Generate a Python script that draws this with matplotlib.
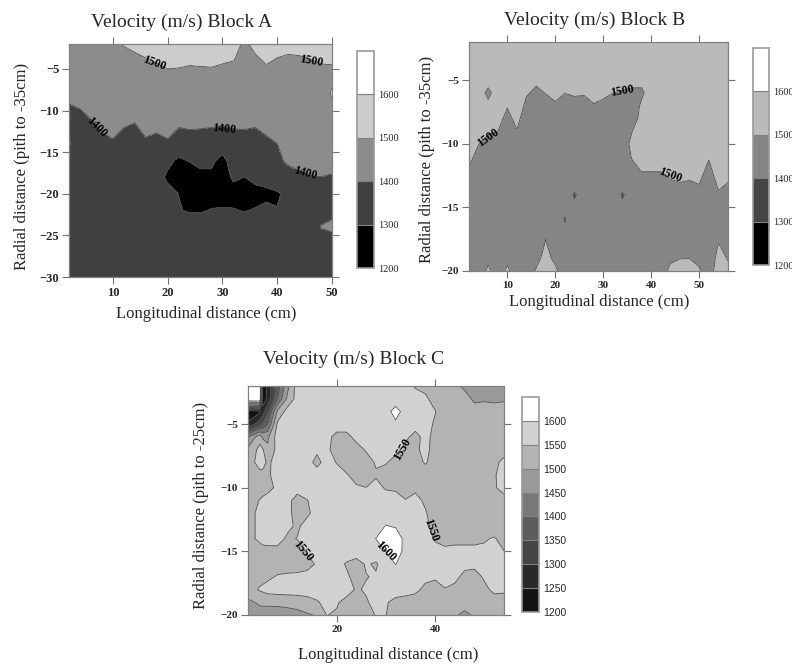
import matplotlib
matplotlib.use('Agg')
import matplotlib.pyplot as plt
import numpy as np

plt.rcParams['font.family'] = ['Liberation Serif', 'DejaVu Serif']

W, H = 792, 664

# Block A, velocity in m/s
xa = [2, 4, 6, 8, 10, 12, 14, 16, 18, 20, 22, 24, 26, 28, 30, 32, 34, 36, 38, 40, 42, 44, 46, 48, 50]
ya = [-2, -4, -6, -8, -10, -12, -14, -16, -18, -20, -22, -24, -26, -28, -30]
za = [
    [1485, 1485, 1490, 1490, 1485, 1505, 1525, 1540, 1555, 1570, 1570, 1565, 1565, 1570, 1560, 1550, 1480, 1530, 1560, 1540, 1530, 1535, 1545, 1560, 1555],
    [1480, 1480, 1485, 1485, 1480, 1470, 1475, 1492, 1508, 1525, 1522, 1515, 1518, 1520, 1510, 1501, 1487, 1480, 1512, 1492, 1482, 1485, 1495, 1510, 1505],
    [1460, 1465, 1470, 1475, 1470, 1470, 1465, 1460, 1458, 1475, 1472, 1465, 1467, 1470, 1460, 1450, 1440, 1435, 1462, 1442, 1430, 1435, 1445, 1460, 1485],
    [1430, 1445, 1475, 1470, 1470, 1465, 1460, 1460, 1450, 1450, 1445, 1445, 1445, 1445, 1440, 1440, 1440, 1440, 1445, 1445, 1445, 1445, 1445, 1450, 1510],
    [1380, 1395, 1425, 1455, 1460, 1450, 1437, 1460, 1455, 1460, 1450, 1455, 1455, 1450, 1447, 1455, 1457, 1450, 1460, 1460, 1470, 1470, 1470, 1470, 1465],
    [1350, 1355, 1375, 1415, 1435, 1401, 1387, 1430, 1417, 1435, 1401, 1407, 1405, 1401, 1397, 1405, 1407, 1401, 1425, 1450, 1460, 1460, 1460, 1460, 1460],
    [1410, 1340, 1345, 1365, 1385, 1350, 1337, 1380, 1367, 1385, 1350, 1357, 1355, 1350, 1347, 1355, 1357, 1350, 1375, 1399, 1450, 1460, 1465, 1465, 1465],
    [1340, 1340, 1340, 1340, 1340, 1340, 1340, 1340, 1335, 1320, 1287, 1305, 1317, 1315, 1275, 1340, 1345, 1350, 1360, 1385, 1412, 1430, 1445, 1450, 1440],
    [1340, 1340, 1340, 1340, 1340, 1340, 1340, 1335, 1330, 1285, 1235, 1252, 1283, 1285, 1262, 1312, 1299, 1320, 1325, 1355, 1370, 1380, 1395, 1399, 1390],
    [1340, 1340, 1340, 1340, 1340, 1340, 1340, 1340, 1335, 1325, 1299, 1262, 1260, 1265, 1265, 1270, 1265, 1275, 1285, 1290, 1320, 1340, 1345, 1350, 1355],
    [1340, 1340, 1340, 1340, 1340, 1340, 1340, 1340, 1340, 1330, 1305, 1292, 1292, 1305, 1307, 1305, 1295, 1305, 1315, 1303, 1330, 1340, 1345, 1355, 1375],
    [1345, 1345, 1345, 1345, 1345, 1345, 1345, 1345, 1345, 1345, 1345, 1345, 1345, 1345, 1345, 1345, 1345, 1345, 1345, 1345, 1345, 1345, 1345, 1405, 1420],
    [1345, 1345, 1345, 1345, 1345, 1345, 1345, 1345, 1345, 1345, 1345, 1345, 1345, 1345, 1345, 1345, 1345, 1345, 1345, 1345, 1345, 1345, 1345, 1345, 1350],
    [1345, 1345, 1345, 1345, 1345, 1345, 1345, 1345, 1345, 1345, 1345, 1345, 1345, 1345, 1345, 1345, 1345, 1345, 1345, 1345, 1345, 1345, 1345, 1345, 1345],
    [1340, 1340, 1340, 1340, 1340, 1340, 1340, 1340, 1340, 1340, 1340, 1340, 1340, 1340, 1340, 1340, 1340, 1340, 1340, 1340, 1340, 1340, 1340, 1340, 1340],
]

# Block B
xb = [2, 4, 6, 8, 10, 12, 14, 16, 18, 20, 22, 24, 26, 28, 30, 32, 34, 36, 38, 40, 42, 44, 46, 48, 50, 52, 54, 56]
yb = [-2, -4, -5, -6, -7, -8, -9, -10, -11, -12, -13, -14, -16, -18, -19, -20]
zb = [
    [1560, 1560, 1560, 1560, 1560, 1560, 1560, 1560, 1560, 1560, 1560, 1560, 1560, 1560, 1560, 1560, 1560, 1560, 1560, 1560, 1560, 1560, 1560, 1560, 1560, 1560, 1560, 1560],
    [1560, 1560, 1560, 1560, 1560, 1560, 1557, 1537, 1552, 1560, 1550, 1557, 1555, 1560, 1560, 1550, 1545, 1540, 1540, 1560, 1560, 1560, 1560, 1560, 1560, 1560, 1560, 1560],
    [1560, 1560, 1530, 1560, 1555, 1560, 1532, 1512, 1527, 1542, 1525, 1532, 1530, 1546, 1537, 1525, 1520, 1515, 1515, 1560, 1560, 1560, 1560, 1560, 1560, 1560, 1560, 1560],
    [1560, 1540, 1480, 1540, 1530, 1560, 1507, 1487, 1502, 1517, 1501, 1507, 1505, 1521, 1512, 1501, 1495, 1490, 1490, 1530, 1560, 1560, 1560, 1560, 1560, 1560, 1560, 1560],
    [1560, 1560, 1520, 1560, 1505, 1547, 1482, 1462, 1477, 1492, 1475, 1482, 1480, 1496, 1487, 1475, 1470, 1465, 1510, 1540, 1560, 1560, 1560, 1560, 1560, 1560, 1560, 1560],
    [1560, 1552, 1532, 1525, 1480, 1522, 1457, 1440, 1447, 1460, 1450, 1445, 1445, 1460, 1450, 1450, 1445, 1470, 1520, 1550, 1560, 1560, 1560, 1560, 1560, 1560, 1560, 1560],
    [1560, 1527, 1507, 1501, 1455, 1497, 1440, 1440, 1440, 1440, 1440, 1440, 1440, 1440, 1440, 1440, 1440, 1499, 1530, 1560, 1560, 1560, 1560, 1560, 1560, 1557, 1560, 1560],
    [1545, 1502, 1482, 1475, 1440, 1472, 1440, 1440, 1440, 1440, 1440, 1440, 1440, 1440, 1440, 1440, 1470, 1515, 1540, 1555, 1555, 1560, 1560, 1560, 1560, 1532, 1560, 1560],
    [1520, 1477, 1457, 1450, 1440, 1447, 1440, 1440, 1440, 1440, 1440, 1440, 1440, 1440, 1440, 1440, 1460, 1505, 1530, 1530, 1530, 1545, 1550, 1547, 1555, 1507, 1560, 1550],
    [1495, 1452, 1440, 1440, 1440, 1440, 1440, 1440, 1440, 1440, 1440, 1440, 1440, 1440, 1440, 1440, 1440, 1485, 1505, 1505, 1505, 1520, 1525, 1522, 1530, 1482, 1542, 1525],
    [1470, 1440, 1440, 1440, 1440, 1440, 1440, 1440, 1440, 1440, 1440, 1440, 1440, 1440, 1440, 1440, 1440, 1440, 1480, 1480, 1480, 1495, 1501, 1497, 1505, 1457, 1517, 1501],
    [1445, 1430, 1430, 1430, 1430, 1430, 1430, 1430, 1430, 1430, 1430, 1393, 1430, 1430, 1430, 1430, 1393, 1430, 1455, 1455, 1455, 1470, 1475, 1472, 1480, 1440, 1492, 1475],
    [1440, 1440, 1440, 1440, 1440, 1440, 1440, 1440, 1470, 1440, 1396, 1440, 1440, 1440, 1440, 1440, 1440, 1440, 1440, 1440, 1440, 1440, 1440, 1440, 1440, 1440, 1460, 1440],
    [1440, 1440, 1440, 1440, 1440, 1440, 1440, 1450, 1510, 1450, 1440, 1440, 1440, 1440, 1440, 1440, 1440, 1440, 1440, 1440, 1440, 1450, 1460, 1465, 1450, 1440, 1505, 1470],
    [1440, 1440, 1480, 1440, 1480, 1440, 1440, 1470, 1535, 1475, 1440, 1440, 1440, 1440, 1440, 1440, 1440, 1440, 1440, 1460, 1440, 1480, 1498, 1499, 1480, 1440, 1530, 1495],
    [1440, 1440, 1520, 1440, 1520, 1440, 1450, 1510, 1560, 1520, 1440, 1440, 1440, 1440, 1440, 1440, 1440, 1440, 1440, 1502, 1440, 1530, 1540, 1540, 1510, 1440, 1560, 1520],
]

# Block C
xc = [2, 4.4, 5, 6, 8, 10, 12, 14, 16, 18, 20, 22, 24, 26, 28, 30, 32, 34, 36, 38, 40, 42, 44, 46, 48, 50, 52, 54]
yc = [-2, -3, -4, -5, -6, -7, -8, -9, -10, -11, -12, -13, -14, -15, -16, -17, -18, -19, -20]
zc = [
    [1680, 1680, 1210, 1265, 1375, 1485, 1575, 1575, 1575, 1575, 1575, 1575, 1575, 1575, 1575, 1575, 1575, 1570, 1545, 1535, 1520, 1510, 1505, 1495, 1470, 1470, 1470, 1470],
    [1680, 1680, 1210, 1265, 1400, 1510, 1570, 1570, 1570, 1570, 1570, 1570, 1570, 1570, 1570, 1570, 1570, 1570, 1570, 1560, 1530, 1520, 1515, 1510, 1495, 1497, 1495, 1497],
    [1210, 1240, 1280, 1340, 1510, 1570, 1575, 1575, 1575, 1575, 1575, 1575, 1575, 1575, 1575, 1580, 1620, 1580, 1575, 1570, 1552, 1525, 1520, 1515, 1510, 1510, 1510, 1510],
    [1260, 1330, 1360, 1400, 1560, 1575, 1575, 1575, 1575, 1575, 1575, 1575, 1575, 1575, 1575, 1575, 1590, 1575, 1570, 1565, 1545, 1525, 1520, 1520, 1520, 1520, 1520, 1520],
    [1450, 1530, 1490, 1490, 1575, 1575, 1575, 1575, 1570, 1565, 1535, 1535, 1565, 1570, 1575, 1575, 1575, 1560, 1535, 1565, 1535, 1525, 1520, 1520, 1520, 1520, 1520, 1520],
    [1510, 1565, 1555, 1510, 1565, 1575, 1575, 1575, 1560, 1560, 1530, 1525, 1530, 1555, 1575, 1570, 1565, 1535, 1540, 1565, 1530, 1525, 1520, 1520, 1520, 1520, 1520, 1530],
    [1525, 1570, 1570, 1540, 1570, 1575, 1575, 1570, 1535, 1570, 1548, 1525, 1520, 1530, 1555, 1555, 1530, 1525, 1530, 1555, 1530, 1525, 1520, 1520, 1520, 1520, 1535, 1565],
    [1525, 1535, 1535, 1540, 1575, 1575, 1575, 1575, 1575, 1570, 1570, 1555, 1530, 1525, 1545, 1525, 1525, 1525, 1525, 1525, 1520, 1520, 1520, 1520, 1520, 1520, 1545, 1570],
    [1525, 1530, 1530, 1535, 1560, 1575, 1570, 1575, 1575, 1575, 1575, 1570, 1557, 1551, 1565, 1545, 1542, 1530, 1540, 1525, 1520, 1520, 1520, 1520, 1520, 1520, 1545, 1565],
    [1530, 1552, 1560, 1570, 1575, 1565, 1530, 1548, 1570, 1575, 1575, 1575, 1575, 1575, 1575, 1575, 1570, 1552, 1565, 1542, 1525, 1520, 1520, 1520, 1520, 1520, 1525, 1535],
    [1535, 1560, 1570, 1575, 1575, 1565, 1530, 1540, 1570, 1575, 1575, 1575, 1575, 1575, 1575, 1575, 1575, 1575, 1575, 1555, 1525, 1520, 1520, 1520, 1520, 1520, 1520, 1520],
    [1535, 1560, 1570, 1575, 1575, 1565, 1540, 1570, 1575, 1575, 1575, 1575, 1575, 1575, 1580, 1602, 1595, 1580, 1575, 1565, 1530, 1520, 1520, 1520, 1520, 1520, 1520, 1520],
    [1535, 1560, 1570, 1575, 1575, 1540, 1552, 1575, 1575, 1575, 1575, 1575, 1575, 1580, 1601, 1625, 1630, 1585, 1575, 1570, 1545, 1535, 1540, 1540, 1540, 1545, 1555, 1530],
    [1530, 1530, 1530, 1530, 1530, 1525, 1525, 1555, 1575, 1575, 1575, 1575, 1575, 1575, 1580, 1601, 1625, 1585, 1575, 1575, 1565, 1560, 1560, 1560, 1560, 1560, 1565, 1551],
    [1525, 1525, 1525, 1525, 1525, 1525, 1530, 1535, 1555, 1575, 1570, 1545, 1530, 1555, 1544, 1580, 1601, 1580, 1575, 1575, 1570, 1570, 1565, 1560, 1560, 1565, 1570, 1570],
    [1530, 1535, 1535, 1540, 1555, 1560, 1560, 1565, 1575, 1575, 1575, 1560, 1530, 1548, 1555, 1570, 1575, 1575, 1570, 1560, 1555, 1565, 1560, 1540, 1535, 1555, 1570, 1570],
    [1530, 1555, 1560, 1570, 1575, 1575, 1575, 1575, 1575, 1575, 1575, 1570, 1545, 1555, 1570, 1575, 1575, 1570, 1560, 1540, 1535, 1548, 1540, 1525, 1525, 1540, 1560, 1560],
    [1490, 1508, 1510, 1510, 1510, 1515, 1520, 1530, 1545, 1565, 1555, 1535, 1525, 1545, 1565, 1555, 1535, 1530, 1530, 1525, 1525, 1530, 1525, 1520, 1520, 1525, 1530, 1525],
    [1475, 1478, 1478, 1478, 1480, 1480, 1485, 1495, 1503, 1551, 1545, 1530, 1520, 1535, 1552, 1551, 1530, 1525, 1520, 1515, 1510, 1510, 1505, 1490, 1505, 1510, 1510, 1510],
]

levels_ab = [1200, 1300, 1400, 1500, 1600, 1700]
levels_c = [1200, 1250, 1300, 1350, 1400, 1450, 1500, 1550, 1600, 1700]
grays_a = ['0.0', '0.25', '0.55', '0.8', '1.0']
grays_b = ['0.0', '0.27', '0.52', '0.73', '1.0']
grays_c = ['0.08', '0.16', '0.27', '0.36', '0.47', '0.6', '0.7', '0.82', '1.0']

labels_a = [('1500', 17.5, -4.3, -20), ('1500', 46.3, -4.0, -10), ('1400', 7.0, -12.0, -45),
            ('1400', 30.3, -12.2, -5), ('1400', 45.2, -17.5, -15)]
labels_b = [('1500', 34.0, -5.85, 10), ('1500', 6.0, -9.55, 35), ('1500', 44.0, -12.5, -20)]
labels_c = [('1550', 33.3, -6.95, 60), ('1550', 39.2, -13.3, -70), ('1550', 13.1, -15.0, -50),
            ('1600', 30.0, -15.0, -45)]


def px_axes(left, top, right, bottom):
    return fig.add_axes([left / W, 1 - bottom / H, (right - left) / W, (bottom - top) / H])


def px_text(x, y, s, size, rotation=0):
    fig.text(x / W, 1 - y / H, s, fontsize=size, rotation=rotation, ha='center', va='center', color='0.15')


def draw_block(box, cbox, x, y, z, levels, grays, xlim, ylim, xticks, yticks, labels, tick_size, cb_font, cb_size):
    ax = px_axes(*box)
    cs = ax.contourf(x, y, np.array(z), levels=levels, colors=grays)
    ax.contour(x, y, np.array(z), levels=levels[1:-1], colors='0.3', linewidths=0.6)
    ax.set_xlim(xlim)
    ax.set_ylim(ylim)
    ax.set_xticks(xticks)
    ax.set_yticks(yticks)
    ax.tick_params(direction='out', length=5, width=0.8, color='0.45', top=True, right=True,
                   labelsize=tick_size, labelcolor='0.15', pad=2)
    for label in ax.get_xticklabels() + ax.get_yticklabels():
        label.set_fontweight('bold')
    for spine in ax.spines.values():
        spine.set_color('0.5')
        spine.set_linewidth(0.9)
    for text, lx, ly, rot in labels:
        ax.text(lx, ly, text, fontsize=8.5, fontweight='bold', rotation=rot, ha='center', va='center',
                rotation_mode='anchor', color='black')

    cax = px_axes(*cbox)
    cb = fig.colorbar(cs, cax=cax, ticks=levels[:-1], drawedges=True)
    cb.outline.set_edgecolor('0.6')
    cb.outline.set_linewidth(1.2)
    cb.dividers.set_color('0.5')
    cb.dividers.set_linewidth(0.8)
    cax.tick_params(length=0, labelsize=cb_size, labelcolor='0.15', pad=3)
    for label in cax.get_yticklabels():
        label.set_family(cb_font)


fig = plt.figure(figsize=(W / 100, H / 100), dpi=100)

draw_block((69, 44, 332, 277), (357, 51, 374, 268), xa, ya, za, levels_ab, grays_a, (2, 50), (-30, -2),
           [10, 20, 30, 40, 50], [-5, -10, -15, -20, -25, -30], labels_a, 9, 'Liberation Serif', 7.5)
draw_block((469, 42, 728, 271), (753, 48, 769, 265), xb, yb, zb, levels_ab, grays_b, (2, 56), (-20, -2),
           [10, 20, 30, 40, 50], [-5, -10, -15, -20], labels_b, 8, 'Liberation Serif', 7.5)
draw_block((248, 386, 504, 615), (522, 397, 539, 612), xc, yc, zc, levels_c, grays_c, (2, 54), (-20, -2),
           [20, 40], [-5, -10, -15, -20], labels_c, 8, 'Liberation Sans', 7.5)

px_text(182, 22, 'Velocity (m/s) Block A', 14)
px_text(595, 20, 'Velocity (m/s) Block B', 14)
px_text(354, 359, 'Velocity (m/s) Block C', 14)

px_text(206, 314, 'Longitudinal distance (cm)', 12)
px_text(599, 302, 'Longitudinal distance (cm)', 12)
px_text(388, 655, 'Longitudinal distance (cm)', 12)

px_text(22, 166, 'Radial distance (pith to -35cm)', 12, rotation=90)
px_text(427, 159, 'Radial distance (pith to -35cm)', 12, rotation=90)
px_text(201, 505, 'Radial distance (pith to -25cm)', 12, rotation=90)

fig.savefig('out.png', dpi=100)
